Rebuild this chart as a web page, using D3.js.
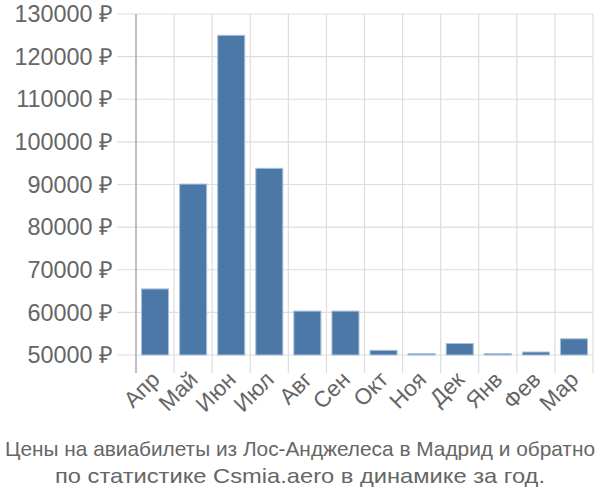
<!DOCTYPE html>
<html><head><meta charset="utf-8">
<script src="https://cdn.jsdelivr.net/npm/d3@7"></script>
<style>body{margin:0;background:#fff}</style>
</head><body>
<svg id="c" width="600" height="500"></svg>
<script>
const months = ["Апр","Май","Июн","Июл","Авг","Сен","Окт","Ноя","Дек","Янв","Фев","Мар"];
const prices = [65500, 90100, 125000, 93800, 60300, 60300, 51100, 50300, 52700, 50300, 50700, 53800];
const yTicks = [50000, 60000, 70000, 80000, 90000, 100000, 110000, 120000, 130000];
const titleLines = ["Цены на авиабилеты из Лос-Анджелеса в Мадрид и обратно", "по статистике Csmia.aero в динамике за год."];

(function(){
const svg = d3.select("#c");
const pL = 136, pR = 593, pT = 14, base = 355, axisBottom = 373;
const x = d3.scaleBand().domain(months).range([pL, pR]).paddingInner(0.29).paddingOuter(0.145);
const y = d3.scaleLinear().domain([50000, 130000]).range([base, pT]);

svg.append("g").selectAll("line").data(yTicks).join("line")
  .attr("x1", 117).attr("x2", pR).attr("y1", d => y(d)).attr("y2", d => y(d))
  .attr("stroke", "#ddd").attr("stroke-width", 1.2);
const vb = d3.range(months.length + 1).map(i => pL + i * x.step());
svg.append("g").selectAll("line").data(vb.slice(1)).join("line")
  .attr("x1", d => d).attr("x2", d => d).attr("y1", pT).attr("y2", axisBottom)
  .attr("stroke", "#ddd").attr("stroke-width", 1.2);
svg.append("line").attr("x1", pL).attr("x2", pL).attr("y1", pT).attr("y2", axisBottom)
  .attr("stroke", "#aaa").attr("stroke-width", 1.5);

svg.append("g").selectAll("rect").data(months).join("rect")
  .attr("x", m => x(m)).attr("width", x.bandwidth())
  .attr("y", (m, i) => y(prices[i])).attr("height", (m, i) => base - y(prices[i]))
  .attr("fill", "#4c78a8").attr("stroke", "#a8c0dc").attr("stroke-width", 1);

svg.append("g").selectAll("text").data(yTicks).join("text")
  .attr("x", 113).attr("y", d => y(d)).attr("dy", "0.35em")
  .attr("text-anchor", "end").attr("fill", "#666")
  .attr("font-family", "Liberation Sans, Arial, sans-serif").attr("font-size", 23.4)
  .text(d => d + " ₽");

svg.append("g").selectAll("text").data(months).join("text")
  .attr("transform", m => `translate(${x(m) + x.bandwidth()/2 + 6},${381}) rotate(-45)`)
  .attr("text-anchor", "end").attr("fill", "#666")
  .attr("font-family", "Liberation Sans, Arial, sans-serif").attr("font-size", 22.5)
  .text(m => m);

const titleWidths = [590, 490];
svg.append("g").selectAll("text").data(titleLines).join("text")
  .attr("x", 300).attr("y", (d, i) => 456 + i * 27)
  .attr("text-anchor", "middle").attr("fill", "#666")
  .attr("font-family", "Liberation Sans, Arial, sans-serif").attr("font-size", 21)
  .attr("textLength", (d, i) => titleWidths[i]).attr("lengthAdjust", "spacingAndGlyphs")
  .text(d => d);
})();
</script>
</body></html>
